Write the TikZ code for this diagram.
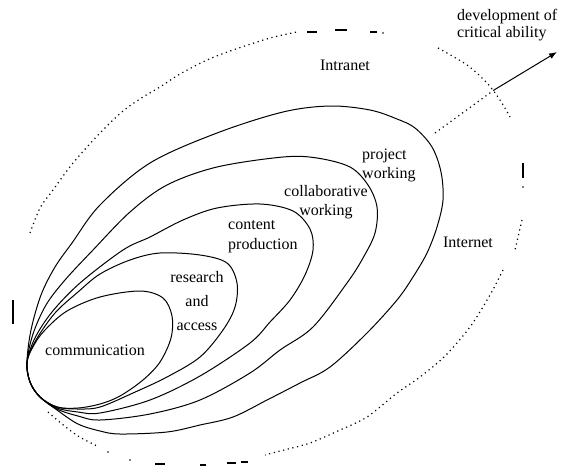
\documentclass[tikz,border=0pt]{standalone}
\usepackage{fontspec}
\setmainfont{Liberation Serif}
\usetikzlibrary{arrows.meta}
\begin{document}
\begin{tikzpicture}[x=1pt,y=-1pt,
  loopline/.style={draw=black, line width=1pt},
  dotline/.style={draw=black, line width=1.2pt, dash pattern=on 1.2pt off 3.6pt},
  dashbit/.style={draw=black, line width=1.1pt},
  lbl/.style={font=\fontsize{16}{19}\selectfont, inner sep=0pt},
]
\useasboundingbox (0,0) rectangle (564,466);

% nested loops
\draw[loopline] plot[smooth cycle, tension=0.55] coordinates {(27,362) (34,345) (45,330) (67,311) (100,297) (140,291) (163,298) (172,316) (171,338) (160,362) (143,380) (120,396) (100,404) (78,408) (57,407) (40,397) (30,382)};
\draw[loopline] plot[smooth cycle, tension=0.55] coordinates {(27,362) (36,340) (55,313) (78,292) (100,274) (130,260) (160,253) (200,255) (227,263) (237,283) (235,307) (223,330) (200,357) (167,377) (133,393) (100,407) (78,409) (57,407) (40,397) (30,382)};
\draw[loopline] plot[smooth cycle, tension=0.55] coordinates {(27,362) (35,338) (52,312) (80,283) (123,250) (150,237) (183,220) (217,208) (260,204) (293,211) (310,229) (313,250) (305,275) (290,300) (270,322) (250,343) (200,376) (150,400) (100,413) (78,412) (57,408) (40,397) (30,382)};
\draw[loopline] plot[smooth cycle, tension=0.55] coordinates {(27,362) (33,334) (46,305) (65,280) (93,250) (130,212) (167,185) (217,167) (283,157) (317,158) (350,167) (368,185) (377,207) (375,233) (363,258) (347,283) (313,327) (280,350) (250,373) (200,400) (150,414) (100,420) (78,416) (57,409) (40,397) (30,382)};
\draw[loopline] plot[smooth cycle, tension=0.55] coordinates {(27,362) (31,330) (41,295) (55,267) (72,243) (100,205) (150,163) (217,133) (283,112) (330,106) (370,110) (397,119) (415,128) (432,147) (441,172) (443,200) (437,227) (427,253) (413,277) (397,300) (367,333) (330,367) (300,383) (267,400) (233,417) (200,425) (167,432) (120,434) (100,431) (78,424) (57,410) (40,397) (30,382)};

% outer dotted boundary (fragmented)
\draw[dotline] plot[smooth] coordinates {(30,233) (40,208) (53,190) (73,163) (100,133) (123,111) (143,97) (160,87) (180,74) (207,60) (233,50) (270,38) (297,32)};
\draw[dashbit] (307,32) -- (317,32);
\draw[dashbit] (335,30) -- (347,30);
\draw[dashbit] (370,32) -- (377,32);
\fill (383,33) circle (0.8);
\draw[dotline] plot[smooth] coordinates {(438,48) (467,65) (487,83) (500,100) (510,117)};
\draw[dashbit] (523,163) -- (523,178);
\fill (523,187) circle (0.8);
\draw[dotline] (522,220) -- (515,250);
\draw[dotline] plot[smooth] coordinates {(503,270) (490,295) (470,327) (445,356) (420,377) (397,393) (367,417) (340,430) (310,443) (280,451) (265,455)};
\draw[dashbit] (155,464) -- (165,464);
\draw[dashbit] (200,465) -- (206,465);
\draw[dashbit] (227,463) -- (236,463);
\draw[dashbit] (241,462) -- (248,462);
\draw[dotline] plot[smooth] coordinates {(48,412) (62,424) (78,436) (97,446)};
\fill (108,452) circle (0.8);
\fill (130,460) circle (0.8);
\draw[dashbit] (13,300) -- (13,324);

% arrow
\coordinate (tailstart) at (435,133);
\coordinate (arrowstart) at (494,90);
\coordinate (arrowtip) at (557,52);
\draw[dotline] (tailstart) -- (arrowstart);
\draw[line width=1pt, -{Latex[length=8pt,width=6pt]}] (arrowstart) -- (arrowtip);

% labels
\node[lbl, anchor=west, align=left, font=\fontsize{16}{17}\selectfont] (dev) at (457,25) {development of\\critical ability};
\node[lbl] (intranet) at (345,65) {Intranet};
\node[lbl, anchor=west, align=left] (project) at (362,165) {project\\working};
\node[lbl, align=center] (collab) at (326,202) {collaborative\\working};
\node[lbl, anchor=west, align=left, font=\fontsize{16}{20}\selectfont] (content) at (228,237) {content\\production};
\node[lbl, align=center, font=\fontsize{16}{24}\selectfont] (research) at (197,301) {research\\and\\access};
\node[lbl] (comm) at (95,350) {communication};
\node[lbl] (internet) at (468,242) {Internet};
\end{tikzpicture}
\end{document}
